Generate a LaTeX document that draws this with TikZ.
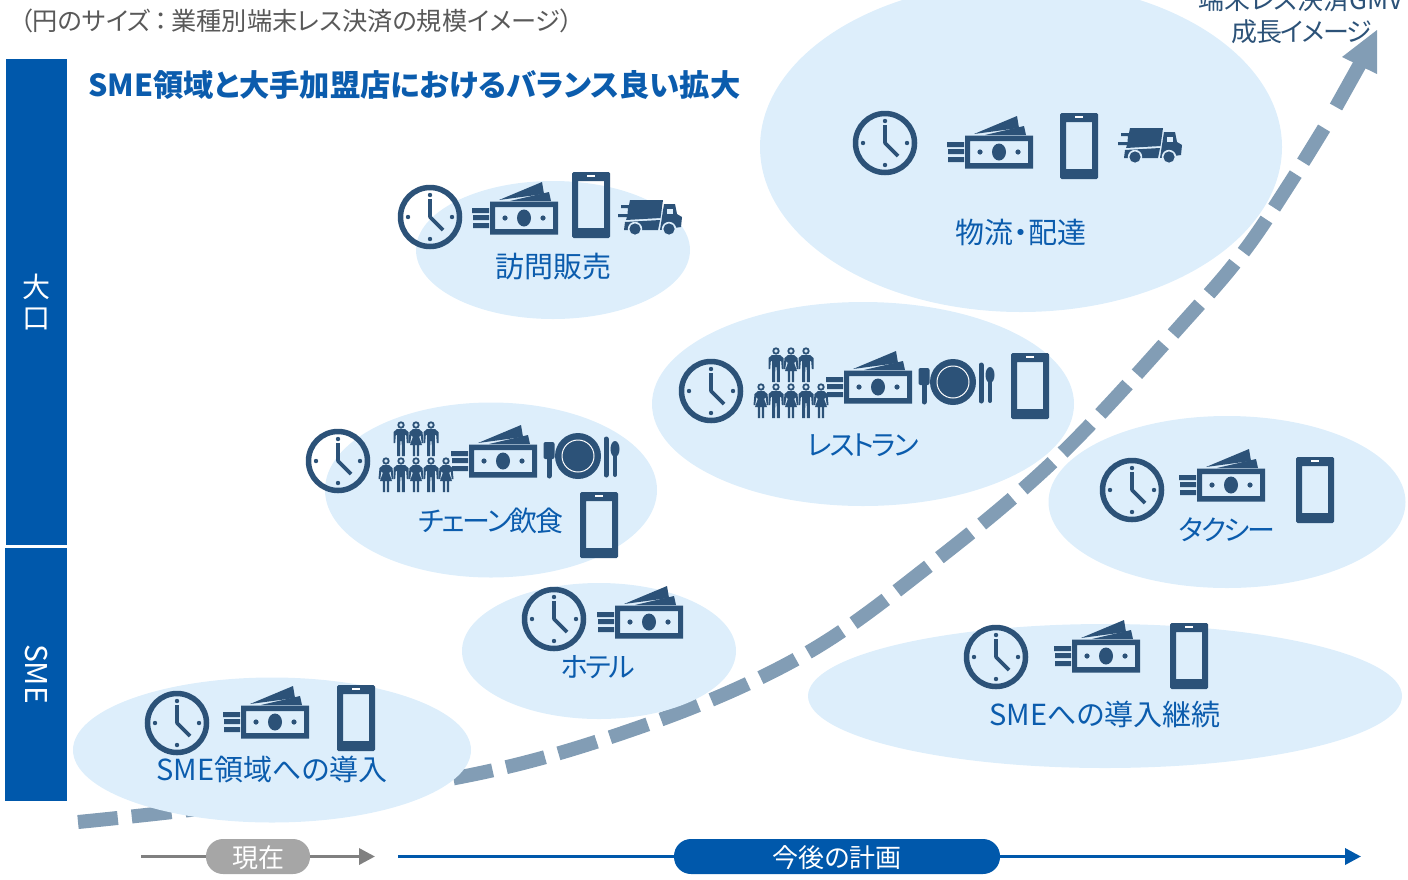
\documentclass[tikz,border=0pt]{standalone}
\usepackage{fontspec}
\setmainfont[RawFeature={+palt}]{Noto Sans CJK JP}
\usetikzlibrary{shapes.geometric,arrows.meta}

\definecolor{iconblue}{HTML}{2C5278}
\definecolor{bubbleblue}{HTML}{DDEEFB}
\definecolor{barblue}{HTML}{0058AB}
\definecolor{labelblue}{HTML}{0B5CAD}
\definecolor{curveblue}{HTML}{829DB5}
\definecolor{graytext}{HTML}{595959}

\tikzset{
    bubble/.style={ellipse, fill=bubbleblue, inner sep=0pt},
    bubblelabel/.style={text=labelblue, font=\fontsize{29}{29}\selectfont, inner sep=0pt},
    kanalabel/.style={text=labelblue, font=\fontsize{28}{28}\selectfont\addfontfeature{LetterSpace=-8}, inner sep=0pt},
    barbox/.style={fill=barblue, inner sep=0pt, anchor=north west},
    pill/.style={rounded corners=17pt, minimum height=35pt, inner sep=0pt, text=white, text height=22pt, text depth=0pt, font=\fontsize{26}{26}\selectfont},
    person/.pic={
        \fill[iconblue] (0,-13) circle (3.7);
        \fill[bubbleblue] (0,-13) circle (1.9);
    },
    manicon/.pic={
        \pic {person};
        \fill[iconblue] (-4,-9)--(4,-9)--(7.5,-6)--(7.5,5)--(5.8,5)--(5.2,-3)--(3.8,-3)--(3.8,18)--(0.9,18)--(0.7,3)--(-0.7,3)--(-0.9,18)--(-3.8,18)--(-3.8,-3)--(-5.2,-3)--(-5.8,5)--(-7.5,5)--(-7.5,-6)--cycle;
    },
    womanicon/.pic={
        \pic {person};
        \fill[iconblue] (-3,-9)--(3,-9)--(6.5,-6)--(7.5,5)--(5.8,5)--(4.6,-3)--(3.2,-1)--(6,7)--(3.2,7)--(3.2,18)--(0.8,18)--(0.8,7)--(-0.8,7)--(-0.8,18)--(-3.2,18)--(-3.2,7)--(-6,7)--(-3.2,-1)--(-4.6,-3)--(-5.8,5)--(-7.5,5)--(-6.5,-6)--cycle;
    },
    peopleicon/.pic={
        \pic at (-15,-18) {manicon};
        \pic at (0,-18) {womanicon};
        \pic at (15,-18) {manicon};
        \pic at (-30,18) {womanicon};
        \pic at (-15,18) {manicon};
        \pic at (0,18) {womanicon};
        \pic at (15,18) {manicon};
        \pic at (30,18) {womanicon};
    },
    clockicon/.pic={
        \draw[iconblue, line width=5.5pt] (0,0) circle (29.5);
        \fill[iconblue] (0,-22) circle (2.2) (22,0) circle (2.2) (0,22) circle (2.2) (-22,0) circle (2.2);
        \draw[iconblue, line width=3.6pt, line join=round] (0,-18) -- (0,0) -- (13,13);
    },
    moneyicon/.pic={
        \fill[iconblue, even odd rule] (-34,-16.5) rectangle (34,16.5) (-29,-11) rectangle (29,11);
        \fill[iconblue] (0,0) ellipse (7 and 8.5) (-19,0) circle (2.6) (19,0) circle (2.6);
        \fill[iconblue] (-25,-18)--(18,-36)--(20,-24)--cycle;
        \fill[iconblue] (-14,-17)--(25,-26)--(27,-17)--cycle;
        \fill[iconblue] (-52,-10) rectangle (-35,-5) (-51,-3) rectangle (-35,2) (-51,5) rectangle (-35,10);
    },
    phoneicon/.pic={
        \fill[iconblue, even odd rule, rounded corners=1.5pt] (-19,-33) rectangle (19,33) [sharp corners] (-13,-24) rectangle (13,23);
        \fill[white] (-4,-30) rectangle (4,-28.5);
    },
    truckicon/.pic={
        % cargo, upper part with the speed lines, then lower part
        \fill[iconblue] (-20,-17)--(13,-17)--(10.5,1)--(-24,3)--(-23,0)--(-32,0)--(-32,-3)--(-22.5,-3)--(-22,-9)--(-29,-9)--(-29,-12)--(-21,-12)--cycle;
        \fill[iconblue] (-25,5)--(10,3)--(8,13)--(-26,13)--cycle;
        % cab
        \fill[iconblue] (14,-13)--(25,-13)--(27,-3)--(32,0)--(31,10)--(10,13)--cycle;
        \fill[bubbleblue] (17,-8) rectangle (23,-3);
        % wheels
        \fill[bubbleblue] (-15,12) circle (7.2) (19,12) circle (7.2);
        \fill[iconblue] (-15,12) circle (5.6) (19,12) circle (5.6);
    },
    plateicon/.pic={
        \fill[iconblue] (0,0) circle (23);
        \draw[white, line width=1pt] (0,0) circle (16);
        \fill[iconblue, rounded corners=2pt] (-34.5,-14) rectangle (-23.5,3);
        \draw[iconblue, line width=5pt, line cap=round] (-29,0) -- (-29,20);
        \draw[iconblue, line width=5pt, line cap=round] (28,-17) -- (28,19);
        \fill[iconblue] (37,-7) ellipse (4.5 and 8);
        \draw[iconblue, line width=4pt, line cap=round] (37,0) -- (37,19);
    }
}

\begin{document}
\begin{tikzpicture}[x=1pt, y=-1pt]
    \useasboundingbox (0,0) rectangle (1408,879);
    \clip (0,0) rectangle (1408,879);

    % Growth curve
    \coordinate (curveStart) at (78,822);
    \coordinate (curveEnd) at (1329,120);
    \coordinate (stemStart) at (1336,107);
    \coordinate (stemEnd) at (1360,64);
    \draw[curveblue, line width=14pt, dash pattern=on 40pt off 14pt]
        plot[smooth, tension=0.6] coordinates {(curveStart) (190,810) (450,779) (640,727) (800,657) (930,565) (1060,455) (1190,315) (1245,250) (1290,183) (curveEnd)};
    \draw[curveblue, line width=14pt] (stemStart) -- (stemEnd);
    \fill[curveblue] (1377,30) -- (1342,57) -- (1377,74) -- cycle;

    % Left bars
    \node[barbox, minimum width=61pt, minimum height=486pt] (barTop) at (6,59) {};
    \node[barbox, minimum width=62pt, minimum height=253pt] (barBottom) at (5,548) {};
    \node[text=white, font=\fontsize{28}{28}\selectfont, inner sep=0pt] (barTopA) at (36,287) {大};
    \node[text=white, font=\fontsize{28}{28}\selectfont, inner sep=0pt] (barTopB) at (36,319) {口};
    \node[text=white, font=\fontsize{30}{30}\selectfont, inner sep=0pt, rotate=-90] (barBottomText) at (36,674) {SME};

    % Headings
    \node[anchor=west, text=graytext, font=\fontsize{25.2}{25.2}\selectfont, inner sep=0pt] (sizeNote) at (20,21) {（円のサイズ\hspace{4pt}：\hspace{4pt}業種別端末レス決済の規模イメージ）};
    \node[anchor=west, text=labelblue, font=\fontsize{30.3}{30.3}\selectfont\bfseries, inner sep=0pt] (mainTitle) at (88,85) {SME領域と大手加盟店におけるバランス良い拡大};
    \node[text=iconblue, font=\fontsize{26}{26}\selectfont, inner sep=0pt] (gmvTextA) at (1301,0) {端末レス決済GMV};
    \node[text=iconblue, font=\fontsize{26}{26}\selectfont\addfontfeature{LetterSpace=-6}, inner sep=0pt] (gmvTextB) at (1302,32) {成長イメージ};

    % Visit sales
    \node[bubble, minimum width=274pt, minimum height=138pt] (visitBubble) at (553,250) {};
    \node[bubblelabel] (visitLabel) at (553,267) {訪問販売};
    \pic at (430,217) {clockicon};
    \pic at (524,218) {moneyicon};
    \pic at (591,205) {phoneicon};
    \pic at (650,217) {truckicon};

    % Logistics
    \node[bubble, minimum width=522pt, minimum height=330pt] (logisticsBubble) at (1021,147) {};
    \node[bubblelabel] (logisticsLabel) at (1021,232) {物流・配達};
    \pic at (885,143) {clockicon};
    \pic at (999,152) {moneyicon};
    \pic at (1079,146) {phoneicon};
    \pic at (1150,145) {truckicon};

    % Restaurant
    \node[bubble, minimum width=422pt, minimum height=204pt] (restaurantBubble) at (863,404) {};
    \node[kanalabel] (restaurantLabel) at (863,445) {レストラン};
    \pic at (711,391) {clockicon};
    \pic at (791,382) {peopleicon};
    \pic at (878,387) {moneyicon};
    \pic at (953,382) {plateicon};
    \pic at (1030,386) {phoneicon};

    % Restaurant chain
    \node[bubble, minimum width=332pt, minimum height=175pt] (chainBubble) at (491,490) {};
    \node[kanalabel] (chainLabel) at (491,521) {チェーン飲食};
    \pic at (338,461) {clockicon};
    \pic at (416,456) {peopleicon};
    \pic at (503,461) {moneyicon};
    \pic at (578,456) {plateicon};
    \pic at (599,525) {phoneicon};

    % Hotel
    \node[bubble, minimum width=274pt, minimum height=136pt] (hotelBubble) at (599,651) {};
    \node[kanalabel] (hotelLabel) at (598,667) {ホテル};
    \pic at (554,619) {clockicon};
    \pic at (649,622) {moneyicon};

    % SME start
    \node[bubble, minimum width=398pt, minimum height=145pt] (smeBubble) at (272,750) {};
    \node[bubblelabel] (smeLabel) at (272,769) {SME領域への導入};
    \pic at (177,723) {clockicon};
    \pic at (275,722) {moneyicon};
    \pic at (356,718) {phoneicon};

    % Taxi
    \node[bubble, minimum width=357pt, minimum height=172pt] (taxiBubble) at (1227,502) {};
    \node[kanalabel] (taxiLabel) at (1227,530) {タクシー};
    \pic at (1132,490) {clockicon};
    \pic at (1231,485) {moneyicon};
    \pic at (1315,490) {phoneicon};

    % SME continued
    \node[bubble, minimum width=594pt, minimum height=144pt] (smeNextBubble) at (1105,696) {};
    \node[bubblelabel] (smeNextLabel) at (1105,714) {SMEへの導入継続};
    \pic at (996,657) {clockicon};
    \pic at (1106,656) {moneyicon};
    \pic at (1189,656) {phoneicon};

    % Time line
    \coordinate (nowStart) at (141,856.5);
    \coordinate (nowEnd) at (375,856.5);
    \coordinate (planStart) at (398,856.5);
    \coordinate (planEnd) at (1361,856.5);
    \node[pill, fill=black!35, minimum width=104pt] (nowPill) at (258,856.5) {現在};
    \node[pill, fill=barblue, minimum width=326pt] (planPill) at (837,856.5) {今後の計画};
    \draw[black!50, line width=3.5pt] (nowStart) -- (nowPill);
    \draw[-{Triangle[length=16pt, width=16pt]}, black!50, line width=3.5pt] (nowPill) -- (nowEnd);
    \draw[barblue, line width=3.5pt] (planStart) -- (planPill);
    \draw[-{Triangle[length=16pt, width=16pt]}, barblue, line width=3.5pt] (planPill) -- (planEnd);
\end{tikzpicture}
\end{document}
